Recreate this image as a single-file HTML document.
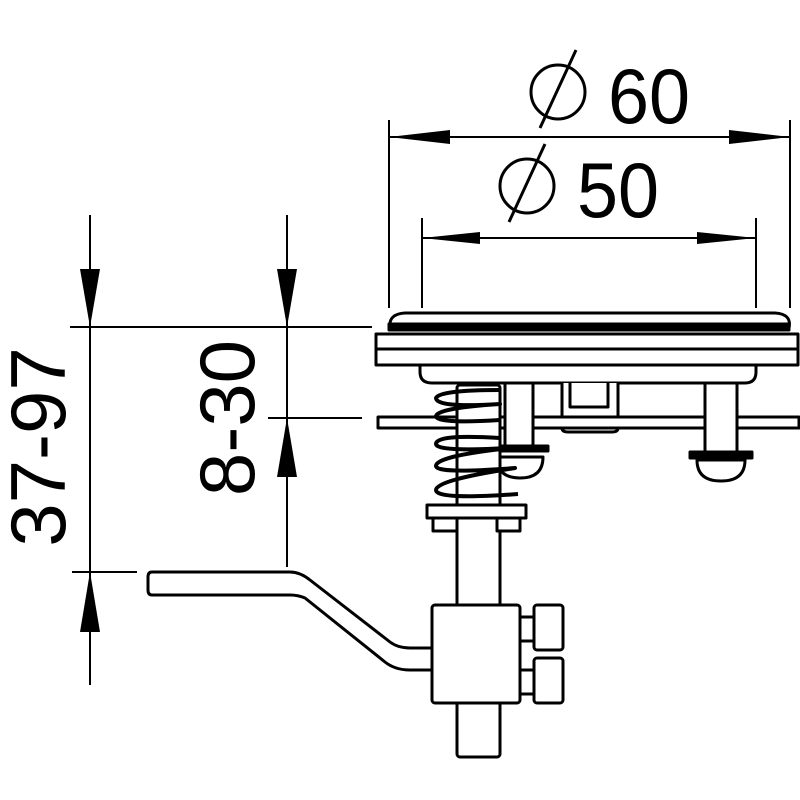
<!DOCTYPE html>
<html><head><style>html,body{margin:0;padding:0;background:#fff}svg{display:block}</style></head>
<body>
<svg width="800" height="800" viewBox="0 0 800 800" xmlns="http://www.w3.org/2000/svg" font-family="Liberation Sans, sans-serif">
<g stroke="#000" stroke-width="2" fill="none">
<line x1="389" y1="120" x2="389" y2="308"/><line x1="790" y1="120" x2="790" y2="308"/>
<line x1="389" y1="137" x2="790" y2="137"/>
<line x1="422" y1="218" x2="422" y2="308"/><line x1="756" y1="218" x2="756" y2="308"/>
<line x1="422" y1="238" x2="756" y2="238"/>
<line x1="90" y1="215" x2="90" y2="685"/>
<line x1="70" y1="327" x2="372" y2="327"/>
<line x1="72" y1="572" x2="137" y2="572"/>
<line x1="287" y1="215" x2="287" y2="567"/>
<line x1="268" y1="418" x2="362" y2="418"/>
</g>
<g fill="#000">
<polygon points="389,137 450,130 450,144"/><polygon points="790,137 729,130 729,144"/>
<polygon points="422,238 480,232 480,244"/><polygon points="756,238 697,232 697,244"/>
<polygon points="90,327 80,269 100,269"/><polygon points="90,572 80,632 100,632"/>
<polygon points="287,327 277,269 297,269"/><polygon points="287,418 277,477 297,477"/>
</g>
<g fill="#000" font-size="78">
<text x="608" y="123" textLength="82" lengthAdjust="spacingAndGlyphs">60</text>
<text x="577" y="217" textLength="82" lengthAdjust="spacingAndGlyphs">50</text>
<text transform="translate(65,447) rotate(-90)" text-anchor="middle">37-97</text>
<text transform="translate(254,418) rotate(-90)" text-anchor="middle">8-30</text>
</g>
<g stroke="#000" stroke-width="3" fill="none">
<circle cx="558" cy="92" r="27"/><line x1="540" y1="128" x2="576" y2="50"/>
<circle cx="527" cy="186" r="27"/><line x1="509" y1="222" x2="545" y2="144"/>
</g>
<g stroke="#000" stroke-width="3" fill="#fff" stroke-linejoin="round">
<path d="M390,328 Q388,314 405,313 L775,313 Q792,314 789,328 Z"/>
<rect x="389" y="324" width="400" height="6" fill="#000"/>
<path d="M420,365 L420,372 Q420,383 432,383 L745,383 Q756,383 756,372 L756,365"/>
<rect x="376" y="334" width="422" height="31"/>
<line x1="376" y1="349" x2="798" y2="349"/>
<path d="M562,383 L562,428 Q562,432 568,432 L612,432 Q618,432 618,428 L618,383" />
<rect x="378" y="417" width="421" height="11"/>
<path d="M570,383 L570,407 L608,407 L608,383"/>
<rect x="505" y="383" width="28" height="65"/>
<rect x="490" y="446" width="58" height="5" fill="#000"/>
<path d="M497,457 L543,457 Q543,478 520,478 Q497,478 497,457 Z"/>
<rect x="705" y="383" width="32" height="70"/>
<rect x="690" y="452" width="62" height="6" fill="#000"/>
<path d="M697,460 L745,460 Q745,481 721,481 Q697,481 697,460 Z"/>
<rect x="457" y="385" width="43" height="372" rx="3"/>
<g fill="none" stroke-width="4">
<path d="M500,390 Q440,390 436,398 Q436,408 500,404 Q438,408 436,416 Q436,424 500,420 M500,438 Q436,434 436,444 Q436,452 510,448 Q436,456 436,466 Q436,474 515,468 Q436,480 436,490 Q436,500 518,494"/>
</g>
<rect x="427" y="505" width="99" height="13"/>
<rect x="433" y="518" width="24" height="13"/><rect x="497" y="518" width="23" height="13"/>
<path d="M152,572 L290,572 Q300,572 310,580 L390,642 Q398,648 410,648 L442,648 L442,670 L410,670 Q395,670 385,662 L305,598 Q298,595 290,595 L152,595 Q148,595 148,590 L148,577 Q148,572 152,572 Z"/>
<rect x="432" y="605" width="88" height="98" rx="3"/>
<rect x="520" y="617" width="14" height="24"/><rect x="534" y="605" width="29" height="45" rx="3"/>
<rect x="520" y="670" width="14" height="24"/><rect x="534" y="658" width="29" height="45" rx="3"/>
</g>
</svg>
</body></html>
